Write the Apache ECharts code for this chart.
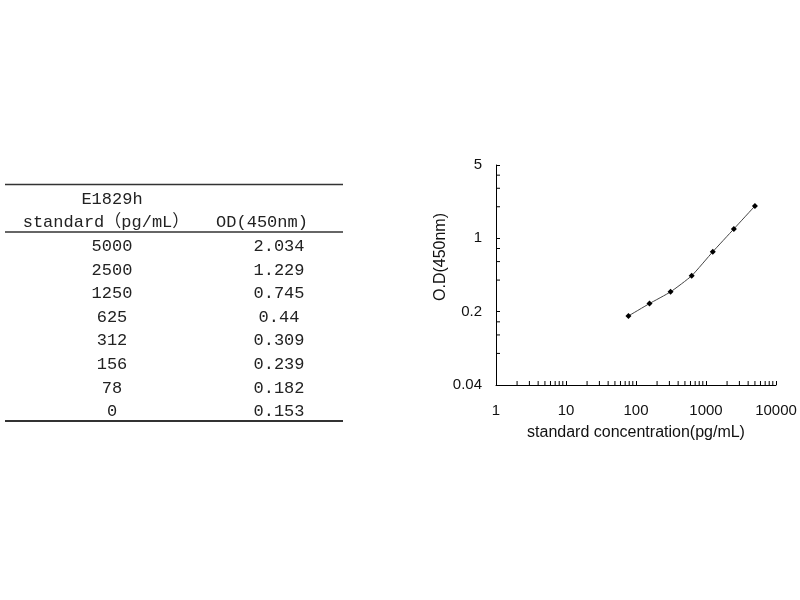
<!DOCTYPE html>
<html>
<head>
<meta charset="utf-8">
<script src="https://cdn.jsdelivr.net/npm/echarts@6/dist/echarts.min.js"></script>
<style>html,body{margin:0;padding:0;background:#fff;}#c{width:800px;height:600px;}</style>
</head>
<body>
<div id="c"></div>
<script>
// ---- data ----
var tableTitle = 'E1829h';
var tableHeaderConc = 'standard（pg/mL）';
var tableHeaderOD = 'OD(450nm)';
var tableConc = ['5000', '2500', '1250', '625', '312', '156', '78', '0'];
var tableOD = ['2.034', '1.229', '0.745', '0.44', '0.309', '0.239', '0.182', '0.153'];
var curveConc = [78, 156, 312, 625, 1250, 2500, 5000];
var curveOD = [0.182, 0.239, 0.309, 0.44, 0.745, 1.229, 2.034];
var xTicks = [1, 10, 100, 1000, 10000];
var yTicks = [0.04, 0.2, 1, 5];
var xTitle = 'standard concentration(pg/mL)';
var yTitle = 'O.D(450nm)';

// minor tick values (between major ticks)
var xMinor = [];
for (var i = 0; i < xTicks.length - 1; i++) for (var k = 2; k <= 9; k++) xMinor.push(xTicks[i] * k);
var yMinor = [];
for (var j = 0; j < yTicks.length - 1; j++) for (var m = 2; m <= 4; m++) yMinor.push(+(yTicks[j] * m).toPrecision(6));

var chart = echarts.init(document.getElementById('c'));

var tableFont = '17px "Liberation Mono", "Noto Sans CJK SC", monospace';
var tColor = '#222';
var graphics = [];
function hline(y, w) {
  graphics.push({type: 'line', shape: {x1: 5, y1: y, x2: 343, y2: y}, style: {stroke: '#333', lineWidth: w}});
}
function ttext(x, y, s) {
  graphics.push({type: 'text', x: x, y: y, style: {text: s, font: tableFont, fill: tColor, align: 'center', verticalAlign: 'middle'}});
}
hline(184.5, 1.5);
hline(232, 1.5);
hline(421, 2);
ttext(112, 199, tableTitle);
ttext(106, 222, tableHeaderConc);
ttext(262, 222, tableHeaderOD);
for (var r = 0; r < tableConc.length; r++) {
  var y = 246.5 + r * 23.6;
  ttext(112, y, tableConc[r]);
  ttext(279, y, tableOD[r]);
}

function fmt(v) { return String(parseFloat(v.toPrecision(4))); }

var option = {
  animation: false,
  backgroundColor: '#fff',
  grid: {left: 496, right: 24, top: 165, bottom: 215, containLabel: false},
  xAxis: {
    type: 'log', logBase: 10, min: xTicks[0], max: xTicks[xTicks.length - 1],
    splitLine: {show: false},
    axisLine: {lineStyle: {color: '#000', width: 1}},
    axisTick: {show: true, inside: true, length: 4, lineStyle: {color: '#000'}},
    axisLabel: {formatter: fmt, color: '#111', fontFamily: 'Liberation Sans', fontSize: 15, margin: 18},
    name: xTitle, nameLocation: 'middle', nameGap: 40,
    nameTextStyle: {color: '#111', fontFamily: 'Liberation Sans', fontSize: 16}
  },
  yAxis: {
    type: 'log', logBase: 5, min: yTicks[0], max: yTicks[yTicks.length - 1],
    splitLine: {show: false},
    axisLine: {show: true, lineStyle: {color: '#000', width: 1}},
    axisTick: {show: true, inside: true, length: 4, lineStyle: {color: '#000'}},
    axisLabel: {formatter: fmt, color: '#111', fontFamily: 'Liberation Sans', fontSize: 15, margin: 14},
    name: yTitle, nameLocation: 'middle', nameGap: 46,
    nameTextStyle: {color: '#111', fontFamily: 'Liberation Sans', fontSize: 16, padding: [0, 0, 0, 36]}
  },
  graphic: graphics,
  series: [
    {
      type: 'custom', silent: true, clip: false,
      data: xMinor.map(function (v) { return [v, yTicks[0]]; }),
      encode: {x: 0, y: 1},
      renderItem: function (params, api) {
        var p = api.coord([api.value(0), api.value(1)]);
        return {type: 'line', shape: {x1: p[0], y1: p[1], x2: p[0], y2: p[1] - 4}, style: {stroke: '#000', lineWidth: 1}};
      }
    },
    {
      type: 'custom', silent: true, clip: false,
      data: yMinor.map(function (v) { return [xTicks[0], v]; }),
      encode: {x: 0, y: 1},
      renderItem: function (params, api) {
        var p = api.coord([api.value(0), api.value(1)]);
        return {type: 'line', shape: {x1: p[0], y1: p[1], x2: p[0] + 4, y2: p[1]}, style: {stroke: '#000', lineWidth: 1}};
      }
    },
    {
      type: 'line',
      data: curveConc.map(function (c, i) { return [c, curveOD[i]]; }),
      smooth: 0.15,
      symbol: 'diamond', symbolSize: 6,
      lineStyle: {color: '#444', width: 1},
      itemStyle: {color: '#000'}
    }
  ]
};
chart.setOption(option);
</script>
</body>
</html>
